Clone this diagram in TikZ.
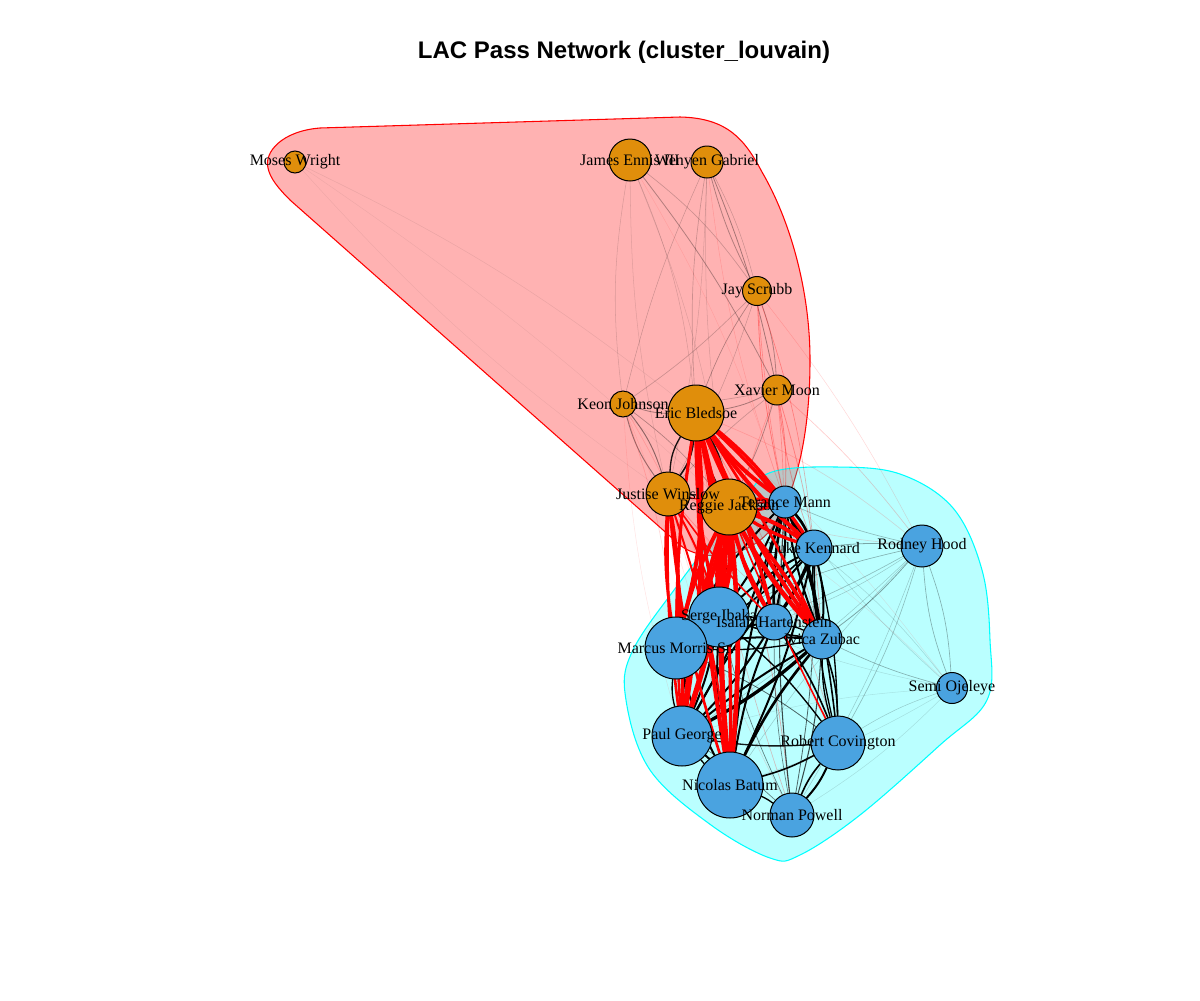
\documentclass[tikz,border=0pt]{standalone}
\usepackage{fontspec}
\setmainfont{Liberation Serif}
\newfontfamily\titlefont{Liberation Sans}
\definecolor{nodeor}{RGB}{224,142,11}
\definecolor{nodebl}{RGB}{74,163,224}
\definecolor{hred}{RGB}{255,0,0}
\definecolor{hcyan}{RGB}{0,255,255}
\pgfdeclarelayer{hull}
\pgfdeclarelayer{edges}
\pgfsetlayers{hull,edges,main}
\begin{document}
\begin{tikzpicture}[x=0.75pt,y=-0.75pt,
  vo/.style={circle, draw=black, line width=0.75pt, fill=nodeor, inner sep=0pt},
  vb/.style={circle, draw=black, line width=0.75pt, fill=nodebl, inner sep=0pt},
  lab/.style={font=\fontsize{12}{12}\selectfont, inner sep=0pt, text=black},
  ttl/.style={font=\titlefont\bfseries\fontsize{18}{18}\selectfont, inner sep=0pt},
  wedge/.style={draw=black, line cap=round},
  redge/.style={draw=hred, line cap=round}]
\useasboundingbox (0,0) rectangle (1200,1000);
\node[ttl] (title) at (624,52) {LAC Pass Network (cluster\_louvain)};
% nodes
\foreach \n/\x/\y/\r/\s in {MW/295/162/11/vo, JE/630/160/21/vo, WG/707/162/16/vo, JS/757/291/14.5/vo,
  XM/777/390/15/vo, KJ/623/404/13/vo, EB/696/413/28/vo, JW/668/494/22/vo, RJ/729/507/28/vo,
  TM/785/502/16/vb, LK/814/548/18/vb, RH/922/546/21/vb, SI/719/617/30/vb, IH/774/622/18/vb,
  IZ/822/639/20/vb, MM/676/648/31/vb, SO/952/688/15.5/vb, PG/682/736/30/vb, RC/838/743/27/vb,
  NB/730/785/33/vb, NP/792/815/22/vb}
  \node[\s, minimum size=\r*1.5pt] (\n) at (\x,\y) {};
% labels
\foreach \n/\t in {MW/Moses Wright, JE/James Ennis III, WG/Wenyen Gabriel, JS/Jay Scrubb, XM/Xavier Moon,
  KJ/Keon Johnson, EB/Eric Bledsoe, JW/Justise Winslow, RJ/Reggie Jackson, TM/Terance Mann,
  LK/Luke Kennard, RH/Rodney Hood, SI/Serge Ibaka, IH/Isaiah Hartenstein, IZ/Ivica Zubac,
  MM/Marcus Morris Sr., SO/Semi Ojeleye, PG/Paul George, RC/Robert Covington, NB/Nicolas Batum,
  NP/Norman Powell}
  \node[lab] (\n-l) at (\n) {\t};
% hulls
\begin{pgfonlayer}{hull}
\draw[hred, line width=0.8pt, fill=hred, fill opacity=0.3]
  (290,200) -- (680,545) .. controls (700,562) and (748,560) .. (772,528)
  .. controls (798,490) and (810,430) .. (810,360)
  .. controls (810,290) and (790,220) .. (762,172)
  .. controls (745,140) and (728,118) .. (680,117)
  -- (320,128) .. controls (282,131) and (264,152) .. (268,168)
  .. controls (270,178) and (278,188) .. (290,200) -- cycle;
\draw[hcyan, line width=0.8pt, fill=hcyan, fill opacity=0.27] plot[smooth cycle, tension=0.6] coordinates {
  (745,498) (772,472) (836,467) (900,474) (953,508) (982,570) (990,640) (987,700) (940,745)
  (860,815) (800,855) (770,858) (711,825) (650,770) (626,700) (632,652) (680,582)};
\end{pgfonlayer}
\begin{pgfonlayer}{edges}
% faint black within red cluster
\foreach \a/\b/\w/\o/\bd in {JE/JS/.5/.2/8, JE/XM/.6/.3/5, JE/KJ/.4/.15/-8, JE/EB/.4/.15/8, JE/JW/.4/.12/-6,
  JE/RJ/.4/.12/6, WG/JS/.6/.3/-6, WG/XM/.6/.35/5, WG/KJ/.4/.2/-5, WG/EB/.5/.2/-6, WG/JW/.4/.15/5,
  WG/RJ/.4/.15/-5, WG/JS/.4/.2/6, JS/XM/.6/.3/8, JS/KJ/.5/.2/5, JS/EB/.5/.3/-6, JS/JW/.4/.2/5,
  XM/KJ/.5/.2/6, XM/EB/.6/.35/8, XM/JW/.5/.2/-5, XM/RJ/.6/.3/5, KJ/EB/.6/.35/-8, KJ/JW/.7/.45/10,
  KJ/JW/.7/.4/-10, KJ/RJ/.5/.3/6, MW/EB/.4/.08/6, MW/JW/.4/.06/-6, MW/RJ/.4/.06/4}
  \draw[wedge, line width=\w pt, draw opacity=\o] (\a) to[bend left=\bd] (\b);
% faint black within blue cluster
\foreach \a/\b/\w/\o/\bd in {RH/TM/.5/.25/5, RH/LK/.6/.35/-5, RH/IZ/.6/.35/6, RH/SI/.5/.3/-6,
  RH/MM/.5/.25/6, RH/PG/.4/.2/5, RH/NB/.4/.2/-5, RH/RC/.5/.25/6, RH/SO/.5/.3/8, RH/SO/.5/.3/-8,
  RH/NP/.4/.2/5, RH/IH/.4/.2/6, SO/TM/.4/.15/6, SO/LK/.4/.15/-6, SO/IZ/.5/.3/5, SO/RC/.4/.2/-6,
  SO/NB/.4/.12/6, SO/PG/.4/.1/-6, SO/NP/.4/.12/6, SO/SI/.4/.12/5}
  \draw[wedge, line width=\w pt, draw opacity=\o] (\a) to[bend left=\bd] (\b);
% faint red crossing
\foreach \a/\b/\w/\o/\bd in {XM/TM/.6/.35/6, XM/LK/.6/.3/-6, XM/RH/.5/.2/5, XM/IZ/.6/.3/6, XM/SI/.5/.2/-6,
  XM/IH/.5/.25/6, JS/TM/.6/.35/-5, JS/LK/.5/.3/6, JS/IZ/.5/.25/-6, JS/RH/.4/.15/5, KJ/MM/.5/.15/6,
  KJ/PG/.4/.1/-6, KJ/SI/.5/.15/5, KJ/NB/.4/.1/6, EB/RH/.5/.15/8, EB/SO/.4/.1/6, RJ/RH/.5/.15/-6,
  RJ/SO/.4/.1/5, RJ/NP/.6/.3/5, JW/NP/.4/.15/-6, JW/RC/.4/.1/6, JE/TM/.4/.1/6, WG/TM/.4/.15/-6,
  EB/NP/.5/.25/-5, EB/RC/.5/.25/6, JW/IZ/.5/.2/-6, JW/LK/.5/.2/6}
  \draw[redge, line width=\w pt, draw opacity=\o] (\a) to[bend left=\bd] (\b);
% black within red cluster, strong
\foreach \a/\b/\w/\o/\bd in {EB/JW/1.2/.9/14, EB/JW/1.0/.9/-14, EB/RJ/1.5/.9/10, EB/RJ/1.2/.9/-8, JW/RJ/1.0/.8/10}
  \draw[wedge, line width=\w pt, draw opacity=\o] (\a) to[bend left=\bd] (\b);
% black within blue cluster, strong
\foreach \a/\b/\w/\o/\bd in {TM/LK/2/1/8, TM/LK/1.5/1/-8, TM/SI/1.5/1/6, TM/IH/2/1/-6, TM/IH/1.5/1/6,
  TM/IZ/2.5/1/6, TM/IZ/1.5/1/-6, TM/MM/1.5/1/-6, TM/PG/1.5/1/6, TM/NB/1.5/1/-5, TM/RC/1.2/1/6,
  TM/NP/.8/.7/-5, LK/SI/1.5/1/-6, LK/IH/2.5/1/6, LK/IZ/1.5/1/8, LK/IZ/1.2/1/-8, LK/MM/1.2/1/6,
  LK/PG/1.5/1/-6, LK/NB/1.5/1/6, LK/RC/1/1/-6, LK/RC/1/1/6, LK/NP/.6/.6/5, SI/IH/1/1/6, SI/IZ/1.2/1/-5,
  SI/MM/1/1/8, SI/PG/1.5/1/6, SI/NB/1.5/1/-6, SI/RC/1/1/6, SI/NP/.5/.5/-5, IH/IZ/1/1/6, IH/MM/1.2/1/-6,
  IH/PG/1.5/1/6, IH/NB/1.5/1/-6, IH/RC/1.2/1/6, IH/NP/.5/.5/-5, IZ/MM/1.5/1/-6, IZ/MM/1/1/6,
  IZ/PG/2.5/1/6, IZ/PG/1.5/1/-4, IZ/NB/2/1/-6, IZ/RC/1.2/1/8, IZ/RC/1/1/-8, IZ/NP/.8/.7/6,
  MM/PG/1.5/1/10, MM/PG/1/1/-10, MM/NB/1.5/1/-6, MM/RC/.6/.6/6, PG/NB/1.5/1/6, PG/NB/1/1/-6,
  PG/RC/1/.9/-6, PG/NP/.5/.5/6, NB/RC/1.2/1/-6, NB/NP/1/1/6, RC/NP/1.5/1/8, RC/NP/1.2/1/-8}
  \draw[wedge, line width=\w pt, draw opacity=\o] (\a) to[bend left=\bd] (\b);
% heavy red crossing
\foreach \a/\b/\w/\bd in {EB/SI/3/8, EB/SI/2.5/-6, EB/MM/3/10, EB/MM/2/-4, EB/PG/3/6, EB/PG/2/-6,
  EB/NB/3/-4, EB/NB/2.5/6, EB/TM/3/-8, EB/TM/2.5/6, EB/LK/3/-6, EB/LK/2.5/6, EB/IZ/3/-6, EB/IZ/2/4,
  EB/IH/2/6, EB/IH/1.5/-6, RJ/SI/4/8, RJ/SI/3/-8, RJ/MM/3.5/8, RJ/MM/3/-6, RJ/PG/4/6, RJ/PG/3/-6,
  RJ/NB/4/-5, RJ/NB/3.5/5, RJ/TM/3/10, RJ/TM/2.5/-10, RJ/LK/3/8, RJ/LK/2.5/-6, RJ/IZ/3.5/-6,
  RJ/IZ/3/6, RJ/IH/3/-8, RJ/IH/2.5/8, RJ/RC/1.2/-2, JW/MM/2.5/6, JW/MM/2/-6, JW/PG/2.5/4, JW/PG/2/-4,
  JW/NB/2/-6, JW/NB/1.5/6, JW/SI/1.5/6, JW/TM/1/-6, JW/IH/1.2/-4}
  \draw[redge, line width=\w pt] (\a) to[bend left=\bd] (\b);
\end{pgfonlayer}
\end{tikzpicture}
\end{document}
